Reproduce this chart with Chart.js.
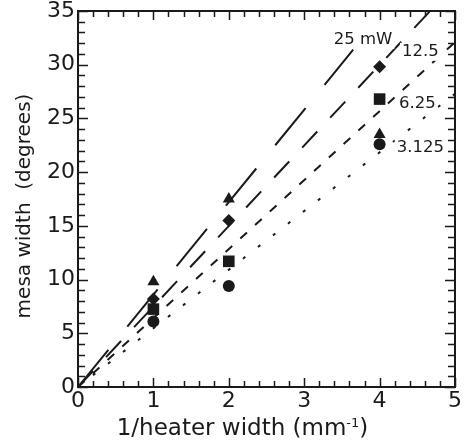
<!DOCTYPE html>
<html>
<head>
<meta charset="utf-8">
<script src="https://cdn.jsdelivr.net/npm/chart.js@4"></script>
<style>
  html, body { margin: 0; padding: 0; background: #fff; }
  #wrap { width: 464px; height: 448px; }
</style>
</head>
<body>
<div id="wrap"><canvas id="grafico" width="464" height="448"></canvas></div>
<script>
// 1/heater width (mm^-1)
const xValues = [1, 2, 4];
// mesa width (degrees) per marker
const triangles = [9.8, 17.5, 23.5];
const diamonds = [8.2, 15.5, 29.8];
const squares = [7.25, 11.7, 26.8];
const circles = [6.1, 9.4, 22.6];

// fit lines from the origin, one per heater power
const powers = ['25 mW', '12.5', '6.25', '3.125'];
const fitEndX = [3.65, 4.67, 5, 5];
const fitEndY = [31.4, 35, 32.1, 27.3];

const xTicks = [0, 1, 2, 3, 4, 5];
const yTicks = [0, 5, 10, 15, 20, 25, 30, 35];

// where the power labels sit (data coords)
const labelSpots = [[3.78, 32.3], [4.54, 31.2], [4.5, 26.35], [4.54, 22.25]];
const dashes = [[48, 30], [22, 19], [9, 11], [3, 16]];

const FONT = 'DejaVu Sans';
const INK = '#1a1a1a';

function pts(ys) {
    return xValues.map((x, i) => ({x: x, y: ys[i]}));
}

const fitSets = powers.map((p, i) => ({
    label: p,
    data: [{x: 0, y: 0}, {x: fitEndX[i], y: fitEndY[i]}],
    showLine: true,
    borderColor: INK,
    borderWidth: 2,
    borderDash: dashes[i],
    borderCapStyle: 'butt',
    pointRadius: 0,
    order: 10
}));

function markers(ys, style, r) {
    return {
        data: pts(ys),
        pointStyle: style,
        pointRadius: r,
        pointBackgroundColor: INK,
        pointBorderColor: INK,
        pointBorderWidth: 0,
        showLine: false,
        order: 1
    };
}

const frame = {
    id: 'frame',
    afterDatasetsDraw(chart) {
        const {ctx, scales: {x, y}} = chart;
        ctx.save();
        // power labels with white backing
        ctx.font = '16.5px "' + FONT + '"';
        ctx.textAlign = 'center';
        ctx.textBaseline = 'middle';
        powers.forEach((p, i) => {
            const px = x.getPixelForValue(labelSpots[i][0]);
            const py = y.getPixelForValue(labelSpots[i][1]);
            const w = ctx.measureText(p).width;
            ctx.fillStyle = '#fff';
            ctx.fillRect(px - w / 2 - 2, py - 9, w + 4, 18);
            ctx.fillStyle = INK;
            ctx.fillText(p, px, py);
        });
        ctx.restore();
    },
    afterDraw(chart) {
        const {ctx, chartArea: a, scales: {x, y}} = chart;
        ctx.save();
        ctx.strokeStyle = INK;
        ctx.lineWidth = 1.5;
        ctx.beginPath();
        for (let i = 0; i <= 25; i++) {
            const px = Math.round(x.getPixelForValue(i / 5)) + 0.5;
            const len = i % 5 === 0 ? 9 : 6;
            ctx.moveTo(px, a.bottom); ctx.lineTo(px, a.bottom - len);
            ctx.moveTo(px, a.top); ctx.lineTo(px, a.top + len);
        }
        for (let v = 0; v <= 35; v++) {
            const py = Math.round(y.getPixelForValue(v)) + 0.5;
            const len = v % 5 === 0 ? 10 : 7;
            ctx.moveTo(a.left, py); ctx.lineTo(a.left + len, py);
            ctx.moveTo(a.right, py); ctx.lineTo(a.right - len, py);
        }
        ctx.stroke();
        ctx.lineWidth = 2;
        ctx.strokeRect(a.left, a.top, a.right - a.left, a.bottom - a.top);

        // x title with superscript
        ctx.fillStyle = INK;
        ctx.textBaseline = 'alphabetic';
        ctx.textAlign = 'left';
        const big = '23px "' + FONT + '"', small = '13px "' + FONT + '"';
        const t1 = '1/heater width (mm', t2 = '-1', t3 = ')';
        ctx.font = big; const w1 = ctx.measureText(t1).width, w3 = ctx.measureText(t3).width;
        ctx.font = small; const w2 = ctx.measureText(t2).width;
        let sx = (a.left + a.right) / 2 - 24 - (w1 + w2 + w3) / 2;
        const base = 435;
        ctx.font = big; ctx.fillText(t1, sx, base); sx += w1;
        ctx.font = small; ctx.fillText(t2, sx, base - 8); sx += w2;
        ctx.font = big; ctx.fillText(t3, sx, base);

        // y title
        ctx.translate(25, (a.top + a.bottom) / 2 + 7);
        ctx.rotate(-Math.PI / 2);
        ctx.textAlign = 'center';
        ctx.textBaseline = 'middle';
        ctx.font = '20px "' + FONT + '"';
        ctx.fillText('mesa width  (degrees)', 0, 0);
        ctx.restore();
    }
};

new Chart(document.getElementById('grafico'), {
    type: 'scatter',
    data: {
        datasets: [
            markers(circles, 'circle', 6),
            markers(squares, 'rect', 8.2),
            markers(triangles, 'triangle', 7),
            markers(diamonds, 'rectRot', 6.5),
            ...fitSets
        ]
    },
    options: {
        responsive: false,
        animation: false,
        layout: { padding: { left: 0, top: 11, right: 9, bottom: 0 } },
        plugins: { legend: { display: false }, tooltip: { enabled: false } },
        scales: {
            x: {
                type: 'linear', min: 0, max: 5,
                grid: { display: false, drawTicks: false },
                border: { display: false },
                afterBuildTicks: s => { s.ticks = xTicks.map(v => ({value: v})); },
                afterFit: s => { s.height = 61; s.paddingLeft = 0; s.paddingRight = 0; },
                ticks: { color: INK, font: { family: FONT, size: 22 }, padding: 1, maxRotation: 0 }
            },
            y: {
                type: 'linear', min: 0, max: 35,
                grid: { display: false, drawTicks: false },
                border: { display: false },
                afterBuildTicks: s => { s.ticks = yTicks.map(v => ({value: v})); },
                afterFit: s => { s.width = 78; s.paddingTop = 0; s.paddingBottom = 0; },
                ticks: { color: INK, font: { family: FONT, size: 22 }, padding: 3 }
            }
        }
    },
    plugins: [frame]
});
</script>
</body>
</html>
